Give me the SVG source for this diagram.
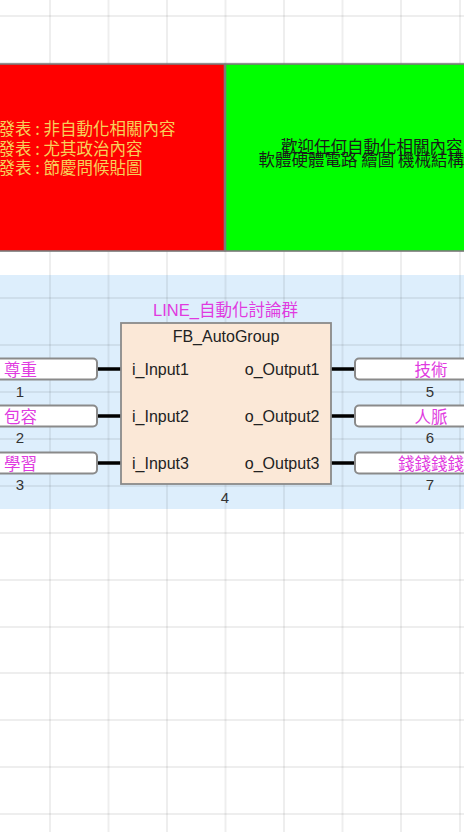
<svg xmlns="http://www.w3.org/2000/svg" width="464" height="832" viewBox="0 0 464 832">
<style>
.grid line{stroke:#000;stroke-opacity:0.065;stroke-width:2}
.box{stroke:#7a7a7a;stroke-width:1.6}
.cjk{font-family:"Noto Sans CJK TC","Noto Sans CJK SC",sans-serif}
.lat{font-family:"Liberation Sans",Arial,sans-serif}
.tag{fill:#fff;stroke:#8a8a8a;stroke-width:2}
.tagtxt{font-family:"Noto Sans CJK TC","Noto Sans CJK SC",sans-serif;font-size:16.5px;fill:#e03ae0;text-anchor:middle}
.num{font-family:"Liberation Sans",Arial,sans-serif;font-size:15px;fill:#333;text-anchor:middle}
.pin{font-family:"Liberation Sans",Arial,sans-serif;font-size:16px;fill:#222}
.wire{stroke:#000;stroke-width:3.5}
</style>
<rect x="0" y="0" width="464" height="832" fill="#fff"/>
<rect id="band" x="0" y="275" width="464" height="234" fill="#ddeefc"/>
<g class="grid">
<line x1="50" y1="0" x2="50" y2="832"/>
<line x1="108.5" y1="0" x2="108.5" y2="832"/>
<line x1="167" y1="0" x2="167" y2="832"/>
<line x1="225.5" y1="0" x2="225.5" y2="832"/>
<line x1="284" y1="0" x2="284" y2="832"/>
<line x1="342.5" y1="0" x2="342.5" y2="832"/>
<line x1="401" y1="0" x2="401" y2="832"/>
<line x1="460" y1="0" x2="460" y2="832"/>
<line x1="0" y1="16" x2="464" y2="16"/>
<line x1="0" y1="63" x2="464" y2="63"/>
<line x1="0" y1="110" x2="464" y2="110"/>
<line x1="0" y1="157" x2="464" y2="157"/>
<line x1="0" y1="204" x2="464" y2="204"/>
<line x1="0" y1="251" x2="464" y2="251"/>
<line x1="0" y1="298" x2="464" y2="298"/>
<line x1="0" y1="345" x2="464" y2="345"/>
<line x1="0" y1="392" x2="464" y2="392"/>
<line x1="0" y1="439" x2="464" y2="439"/>
<line x1="0" y1="486" x2="464" y2="486"/>
<line x1="0" y1="533" x2="464" y2="533"/>
<line x1="0" y1="580" x2="464" y2="580"/>
<line x1="0" y1="627" x2="464" y2="627"/>
<line x1="0" y1="673" x2="464" y2="673"/>
<line x1="0" y1="720" x2="464" y2="720"/>
<line x1="0" y1="767" x2="464" y2="767"/>
<line x1="0" y1="814" x2="464" y2="814"/>
</g>
<g id="red-note">
<rect class="box" x="-70" y="64" width="294.5" height="187" fill="#ff0000"/>
<g class="cjk" font-size="16.5" fill="#f6d05a">
<text x="-1.5" y="135" xml:space="preserve">發表 : 非自動化相關內容</text>
<text x="-1.5" y="154.5" xml:space="preserve">發表 : 尤其政治內容</text>
<text x="-1.5" y="174" xml:space="preserve">發表 : 節慶問候貼圖</text>
</g>
</g>
<g id="green-note">
<rect class="box" x="225.5" y="64" width="300" height="187" fill="#00ff00"/>
<g class="cjk" font-size="16.5" fill="#1a1a1a">
<text x="281" y="153">歡迎任何自動化相關內容</text>
<text x="258.5" y="165.5">軟體硬體電路 繪圖 機械結構</text>
</g>
</g>
<g id="connectors">
<line class="wire" x1="97" y1="369" x2="121" y2="369"/>
<line class="wire" x1="97" y1="416" x2="121" y2="416"/>
<line class="wire" x1="97" y1="463" x2="121" y2="463"/>
<line class="wire" x1="331" y1="369" x2="355" y2="369"/>
<line class="wire" x1="331" y1="416" x2="355" y2="416"/>
<line class="wire" x1="331" y1="463" x2="355" y2="463"/>
</g>
<g id="fb-block">
<text class="cjk" x="225.5" y="316" font-size="16.5" fill="#e03ae0" text-anchor="middle"><tspan font-family="Liberation Sans,Arial,sans-serif">LINE_</tspan>自動化討論群</text>
<rect x="121" y="323" width="210" height="161" fill="#fbe8d7" stroke="#8a8a8a" stroke-width="1.8"/>
<text class="lat" x="226" y="341.5" font-size="16" fill="#222" text-anchor="middle">FB_AutoGroup</text>
<text class="pin" x="132" y="375">i_Input1</text>
<text class="pin" x="132" y="422">i_Input2</text>
<text class="pin" x="132" y="469">i_Input3</text>
<text class="pin" x="319.5" y="375" text-anchor="end">o_Output1</text>
<text class="pin" x="319.5" y="422" text-anchor="end">o_Output2</text>
<text class="pin" x="319.5" y="469" text-anchor="end">o_Output3</text>
<text class="num" x="225" y="502.5">4</text>
</g>
<g id="in1">
<rect class="tag" x="-57" y="358.5" width="154" height="21" rx="4"/>
<text class="tagtxt" x="20.5" y="375.5">尊重</text>
<text class="num" x="20" y="397">1</text>
</g>
<g id="in2">
<rect class="tag" x="-57" y="405.5" width="154" height="21" rx="4"/>
<text class="tagtxt" x="20.5" y="422.5">包容</text>
<text class="num" x="20" y="443">2</text>
</g>
<g id="in3">
<rect class="tag" x="-57" y="452.5" width="154" height="21" rx="4"/>
<text class="tagtxt" x="20.5" y="469.5">學習</text>
<text class="num" x="20" y="490">3</text>
</g>
<g id="out5">
<rect class="tag" x="355" y="358.5" width="154" height="21" rx="4"/>
<text class="tagtxt" x="431" y="375.5">技術</text>
<text class="num" x="430" y="397">5</text>
</g>
<g id="out6">
<rect class="tag" x="355" y="405.5" width="154" height="21" rx="4"/>
<text class="tagtxt" x="431" y="422.5">人脈</text>
<text class="num" x="430" y="443">6</text>
</g>
<g id="out7">
<rect class="tag" x="355" y="452.5" width="154" height="21" rx="4"/>
<text class="tagtxt" x="431" y="469.5">錢錢錢錢</text>
<text class="num" x="430" y="490">7</text>
</g>
</svg>
